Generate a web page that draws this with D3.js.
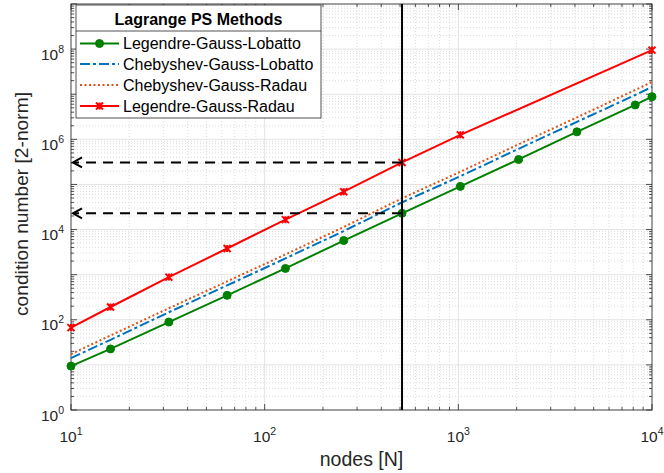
<!DOCTYPE html>
<html><head><meta charset="utf-8">
<script src="https://cdn.jsdelivr.net/npm/d3@7"></script>
<style>body{margin:0;background:#fff}svg{display:block}text{font-family:"Liberation Sans",Arial,sans-serif}</style>
</head><body><svg id="c" width="664" height="473"></svg>
<script>
const nodesLGL = [10,16,32,64,128,256,512,1024,2048,4096,8192,10000];
const valsLGL  = [9.4,22.6,89,348,1375,5710,22900,90600,358000,1.466e6,5.78e6,8.83e6];
const nodesCGL = [10,16,32,64,128,256,512,1024,2048,4096,8192,10000];
const valsCGL  = [14.1,36,147,578,2290,9270,40100,152000,617000,2.44e6,9.6e6,1.45e7];
const nodesCGR = [10,16,32,64,128,256,512,1024,2048,4096,8192,10000];
const valsCGR  = [17.3,45,180,710,2800,11400,49200,191000,776000,3.06e6,1.24e7,1.87e7];
const nodesLGR = [10,16,32,64,128,256,512,1024,10000];
const valsLGR  = [67,192,883,3800,16600,69000,307000,1.256e6,9.5e7];
const seriesNames = ["Legendre-Gauss-Lobatto","Chebyshev-Gauss-Lobatto","Chebyshev-Gauss-Radau","Legendre-Gauss-Radau"];
const legendTitle = "Lagrange PS Methods";
const xTickExps = [1,2,3,4];
const yTickExps = [0,2,4,6,8];
const markerN = 512;
const arrowLevels = [307000, 22900];

const svg = d3.select("#c");
const L=71,R=652,T=4,B=410;
const x = d3.scaleLog().domain([10,1e4]).range([L,R]);
const y = d3.scaleLog().domain([1,1e9]).range([B,T]);

// grid
const g = svg.append("g");
const minorX=[], minorY=[];
for(let e=1;e<4;e++) for(let k=2;k<10;k++) minorX.push(k*10**e);
for(let e=0;e<9;e++) for(let k=2;k<10;k++) minorY.push(k*10**e);
g.selectAll(".mx").data(minorX).join("line").attr("x1",d=>x(d)).attr("x2",d=>x(d)).attr("y1",T).attr("y2",B)
 .attr("stroke","#c4c4c4").attr("stroke-width",0.6).attr("stroke-dasharray","1,2");
g.selectAll(".my").data(minorY).join("line").attr("y1",d=>y(d)).attr("y2",d=>y(d)).attr("x1",L).attr("x2",R)
 .attr("stroke","#c4c4c4").attr("stroke-width",0.6).attr("stroke-dasharray","1,2");
const majorX=[10,100,1000,10000], majorY=d3.range(0,10).map(e=>10**e);
g.selectAll(".Mx").data(majorX).join("line").attr("x1",d=>x(d)).attr("x2",d=>x(d)).attr("y1",T).attr("y2",B)
 .attr("stroke","#dcdcdc").attr("stroke-width",0.8);
g.selectAll(".My").data(majorY).join("line").attr("y1",d=>y(d)).attr("y2",d=>y(d)).attr("x1",L).attr("x2",R)
 .attr("stroke","#dcdcdc").attr("stroke-width",0.8);

// axes (ticks inward, on all sides)
const ax = svg.append("g").attr("stroke","#262626").attr("stroke-width",0.8);
function tickLines(vals, len, horiz){
  vals.forEach(v=>{
    if(horiz){
      ax.append("line").attr("x1",x(v)).attr("x2",x(v)).attr("y1",B).attr("y2",B-len);
      ax.append("line").attr("x1",x(v)).attr("x2",x(v)).attr("y1",T).attr("y2",T+len);
    } else {
      ax.append("line").attr("y1",y(v)).attr("y2",y(v)).attr("x1",L).attr("x2",L+len);
      ax.append("line").attr("y1",y(v)).attr("y2",y(v)).attr("x1",R).attr("x2",R-len);
    }
  });
}
tickLines(minorX, 3, true); tickLines(majorX, 6, true);
tickLines(minorY, 3, false); tickLines(majorY, 6, false);
ax.append("rect").attr("x",L).attr("y",T).attr("width",R-L).attr("height",B-T).attr("fill","none");

// tick labels
xTickExps.forEach(e=>{
  const t = svg.append("text").attr("x",x(10**e)).attr("y",442).attr("text-anchor","middle")
    .attr("font-size",15.5).attr("fill","#262626");
  t.append("tspan").text("10");
  t.append("tspan").attr("dy",-7).attr("font-size",10.5).text(e);
});
yTickExps.forEach(e=>{
  const t = svg.append("text").attr("x",L-7).attr("y",y(10**e)+10.5).attr("text-anchor","end")
    .attr("font-size",15.5).attr("fill","#262626");
  t.append("tspan").text("10");
  t.append("tspan").attr("dy",-7).attr("font-size",10.5).text(e);
});
svg.append("text").attr("x",(L+R)/2).attr("y",466).attr("text-anchor","middle").attr("font-size",19.5)
  .attr("fill","#262626").text("nodes [N]");
svg.append("text").attr("transform",`translate(28,204) rotate(-90)`).attr("text-anchor","middle")
  .attr("font-size",19.2).attr("fill","#262626").text("condition number [2-norm]");

// series
const series = [
 {n:nodesLGL,v:valsLGL,c:"#008000",dash:null,m:"o"},
 {n:nodesCGL,v:valsCGL,c:"#0072BD",dash:"10,3,3,3",m:null},
 {n:nodesCGR,v:valsCGR,c:"#D95319",dash:"2,2.5",m:null},
 {n:nodesLGR,v:valsLGR,c:"#FF0000",dash:null,m:"x"}
];
const line = d3.line().x(d=>x(d[0])).y(d=>y(d[1]));
const sg = svg.append("g");
series.forEach(s=>{
  const pts = s.n.map((n,i)=>[n,s.v[i]]);
  sg.append("path").attr("d",line(pts)).attr("fill","none").attr("stroke",s.c).attr("stroke-width",2)
    .attr("stroke-dasharray",s.dash);
});

// vertical line and arrows
svg.append("line").attr("x1",x(markerN)).attr("x2",x(markerN)).attr("y1",T).attr("y2",B)
  .attr("stroke","#000").attr("stroke-width",2);
arrowLevels.forEach(v=>{
  const yy=y(v);
  svg.append("line").attr("x1",x(markerN)).attr("x2",L+4).attr("y1",yy).attr("y2",yy)
    .attr("stroke","#000").attr("stroke-width",2).attr("stroke-dasharray","10,7");
  svg.append("path").attr("d",`M${L+11},${yy-5} L${L+2},${yy} L${L+11},${yy+5}`)
    .attr("fill","none").attr("stroke","#000").attr("stroke-width",2);
});

// markers on top
function drawMarker(gg,m,cx,cy,c){
  if(m==="o") gg.append("circle").attr("cx",cx).attr("cy",cy).attr("r",4).attr("fill",c).attr("stroke",c);
  else if(m==="x"){
    const s=3.5;
    gg.append("path").attr("d",`M${cx-s},${cy-s}L${cx+s},${cy+s}M${cx-s},${cy+s}L${cx+s},${cy-s}M${cx},${cy-s}L${cx},${cy+s}`)
      .attr("stroke",c).attr("stroke-width",2).attr("fill","none");
  }
}
series.forEach(s=>{
  if(!s.m) return;
  s.n.forEach((n,i)=>drawMarker(sg,s.m,x(n),y(s.v[i]),s.c));
});

// legend
const lg = svg.append("g");
const lx=76, ly=5, lw=245, lh=113;
lg.append("rect").attr("x",lx).attr("y",ly).attr("width",lw).attr("height",lh).attr("fill","#fff")
  .attr("stroke","#262626").attr("stroke-width",0.8);
lg.append("line").attr("x1",lx).attr("x2",lx+lw).attr("y1",31).attr("y2",31).attr("stroke","#262626").attr("stroke-width",0.8);
lg.append("text").attr("x",lx+lw/2).attr("y",25).attr("text-anchor","middle").attr("font-size",16)
  .attr("font-weight","bold").attr("fill","#000").text(legendTitle);
const ys=[43.5,64,85,106];
series.forEach((s,i)=>{
  lg.append("line").attr("x1",80).attr("x2",119).attr("y1",ys[i]).attr("y2",ys[i]).attr("stroke",s.c)
    .attr("stroke-width",2).attr("stroke-dasharray",s.dash);
  if(s.m) drawMarker(lg,s.m,99.5,ys[i],s.c);
  lg.append("text").attr("x",123).attr("y",ys[i]+5.5).attr("font-size",16).attr("fill","#000").text(seriesNames[i]);
});
</script></body></html>
